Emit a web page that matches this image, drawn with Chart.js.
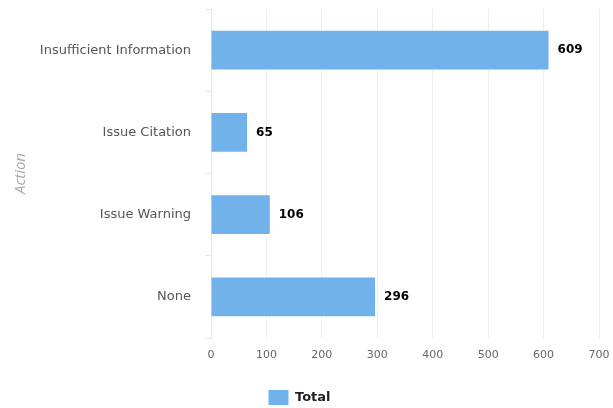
<!DOCTYPE html>
<html>
<head>
<meta charset="utf-8">
<script src="https://cdn.jsdelivr.net/npm/chart.js@4.4.1/dist/chart.umd.min.js"></script>
<style>
  html, body { margin: 0; padding: 0; background: #fff; }
  #wrap { width: 613px; height: 408px; position: relative; }
</style>
</head>
<body>
<div id="wrap"><canvas id="actionChart"></canvas></div>
<script>
// datos del grafico
const actions = ["Insufficient Information", "Issue Citation", "Issue Warning", "None"];
const totals = [609, 65, 106, 296];
const xTicks = [0, 100, 200, 300, 400, 500, 600, 700];

// etiquetas al final de cada barra (no hay plugin datalabels)
const barLabels = {
    id: "barLabels",
    afterDatasetsDraw(chart) {
        const ctx = chart.ctx;
        const meta = chart.getDatasetMeta(0);
        ctx.save();
        ctx.font = "bold 12px 'DejaVu Sans', sans-serif";
        ctx.fillStyle = "#000";
        ctx.textBaseline = "middle";
        ctx.textAlign = "left";
        meta.data.forEach((bar, i) => {
            ctx.fillText(String(chart.data.datasets[0].data[i]), bar.x + 9, bar.y);
        });
        ctx.restore();
    }
};

new Chart(document.getElementById("actionChart"), {
    type: "bar",
    data: {
        labels: actions,
        datasets: [{
            label: "Total",
            data: totals,
            backgroundColor: "#72b2ea",
            borderWidth: 0,
            categoryPercentage: 0.47,
            barPercentage: 1
        }]
    },
    options: {
        indexAxis: "y",
        responsive: true,
        maintainAspectRatio: false,
        animation: false,
        layout: { padding: { top: 9, right: 14, left: 0, bottom: -7 } },
        plugins: {
            legend: {
                position: "bottom",
                labels: {
                    boxWidth: 20,
                    boxHeight: 15,
                    padding: 4,
                    color: "#222",
                    font: { family: "'DejaVu Sans', sans-serif", size: 13, weight: "bold" }
                }
            },
            tooltip: { enabled: false }
        },
        scales: {
            x: {
                min: 0,
                max: 700,
                afterBuildTicks: (s) => { s.ticks = xTicks.map((v) => ({ value: v })); },
                grid: { color: "#f0f0f0", drawTicks: false },
                border: { display: false },
                ticks: {
                    padding: 11,
                    color: "#666",
                    font: { family: "'DejaVu Sans', sans-serif", size: 11 }
                },
                afterFit: (s) => { s.height = 48; s.paddingRight = 0; }
            },
            y: {
                grid: { display: true, drawOnChartArea: false, offset: true, color: "#e6e6e6", tickLength: 6 },
                border: { color: "#e6e6e6" },
                ticks: {
                    padding: 14,
                    color: "#555",
                    font: { family: "'DejaVu Sans', sans-serif", size: 13 }
                },
                title: {
                    display: true,
                    text: "Action",
                    color: "#aaa",
                    padding: { top: 12, bottom: 0 },
                    font: { family: "'Open Sans', sans-serif", size: 15, style: "italic" }
                },
                afterFit: (s) => { s.width = 211; s.paddingTop = 0; s.paddingBottom = 0; }
            }
        }
    },
    plugins: [barLabels]
});
</script>
</body>
</html>
